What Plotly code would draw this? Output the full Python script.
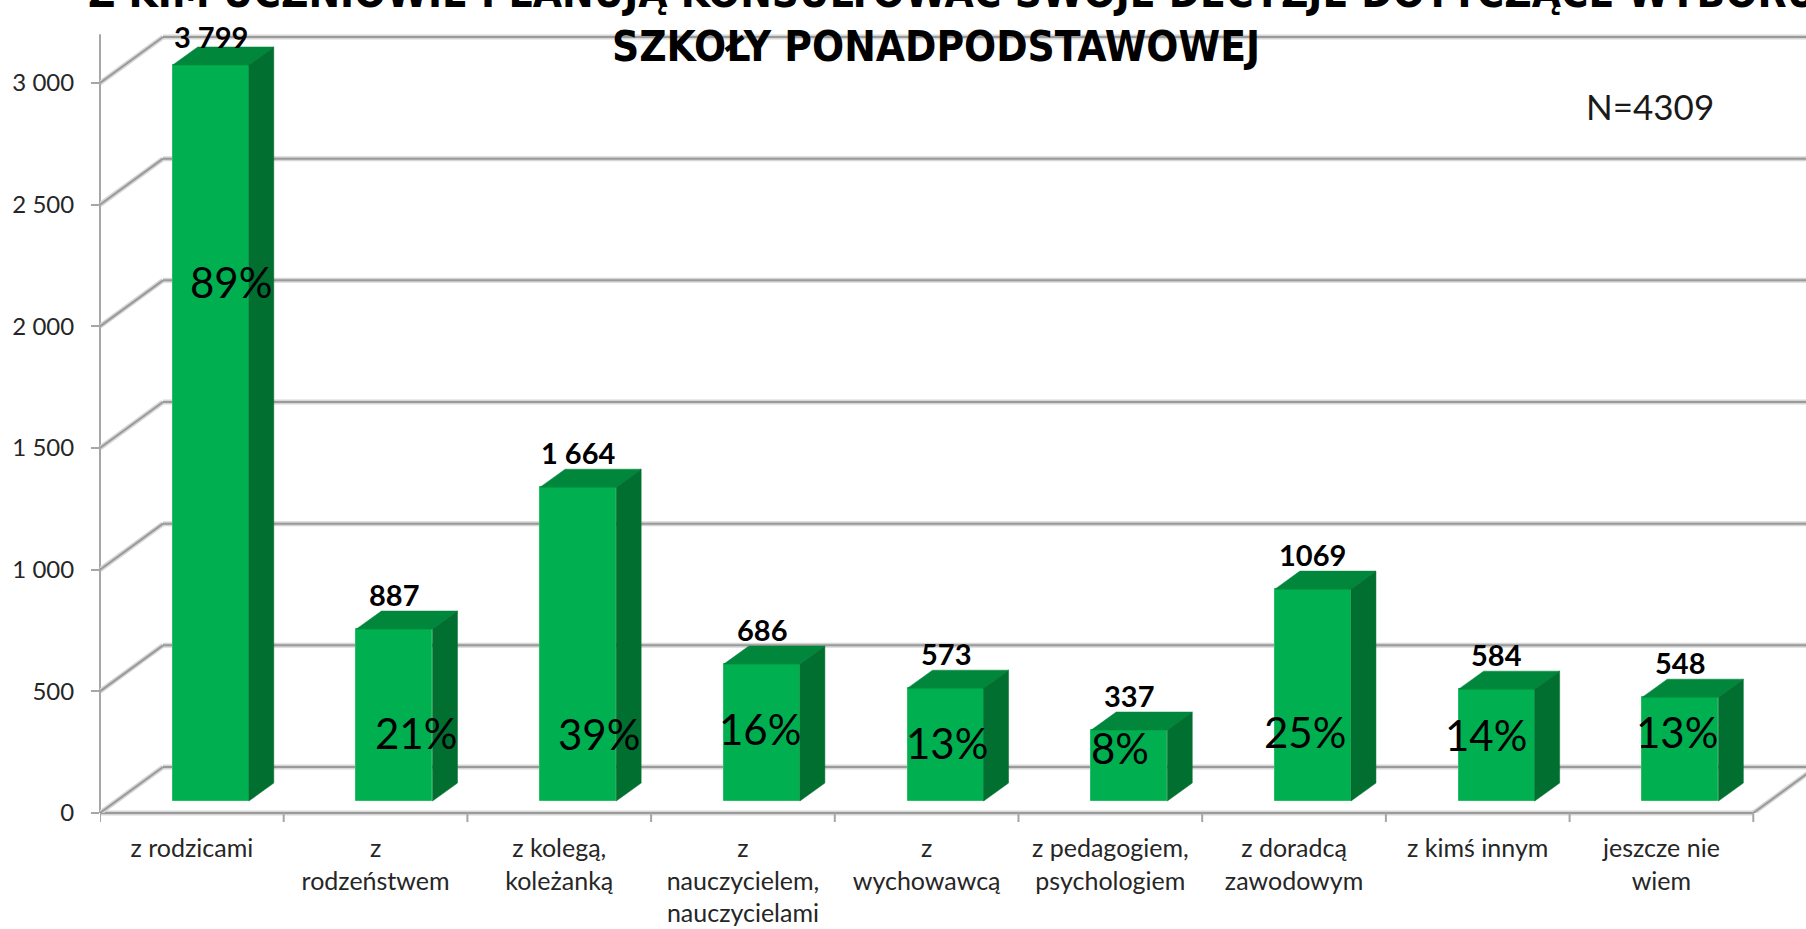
import plotly.graph_objects as go

# ---------------- data ----------------
categories = [
    "z rodzicami",
    "z<br>rodzeństwem",
    "z kolegą,<br>koleżanką",
    "z<br>nauczycielem,<br>nauczycielami",
    "z<br>wychowawcą",
    "z pedagogiem,<br>psychologiem",
    "z doradcą<br>zawodowym",
    "z kimś innym",
    "jeszcze nie<br>wiem",
]
counts = [3799, 887, 1664, 686, 573, 337, 1069, 584, 548]
count_labels = ["3 799", "887", "1 664", "686", "573", "337", "1069", "584", "548"]
percent_labels = ["89%", "21%", "39%", "16%", "13%", "8%", "25%", "14%", "13%"]
# bar heights as drawn against the value axis of the original chart
bar_heights = [3025, 707, 1290, 563, 464, 292, 871, 460, 427]
y_tick_vals = [0, 500, 1000, 1500, 2000, 2500, 3000]
y_tick_text = ["0", "500", "1 000", "1 500", "2 000", "2 500", "3 000"]
title_line1 = "Z KIM UCZNIOWIE PLANUJĄ KONSULTOWAĆ SWOJE DECYZJE DOTYCZĄCE WYBORU"
title_line2 = "SZKOŁY PONADPODSTAWOWEJ"
n_note = "N=4309"

# ---------------- layout / geometry (not data) ----------------
W, H = 1806, 929
ML, MB = 100, 116
X_RANGE = [-0.5, 8.787]
Y_RANGE = [0, 3341]
WALL_DX, WALL_DY = 0.343, 189      # depth of the 3-D floor / back wall
BAR_SHIFT, BAR_BASE, BAR_W = 0.103, 49, 0.414
BAR_DX, BAR_DY = 0.136, 74         # depth of each 3-D column
AXIS_TOP = 3200
# placement of the labels
value_yshift = [28, 35, 35, 35, 35, 35, 35, 35, 35]
pct_xshift = [20, 22, 21, -2, 1, -9, -8, -11, -3]
pct_y = [2182, 329, 325, 345, 288, 267, 333, 321, 333]

FRONT = "#00B050"
TOP = "#00873C"
SIDE = "#006F30"
GRID = "#9a9a9a"
GRID_SHADOW = "#d6d6d6"
TXT = "#262626"
LABEL_FONT = "Lato, Carlito, Calibri, sans-serif"
TITLE_FONT = "DejaVu Sans Condensed, Liberation Sans Narrow, Arial Narrow, sans-serif"

idx = list(range(len(categories)))
fig = go.Figure()

# front faces
fig.add_trace(go.Bar(
    x=[i + BAR_SHIFT for i in idx], y=bar_heights, base=BAR_BASE, width=BAR_W,
    marker=dict(color=FRONT, line=dict(color="#27BD63", width=1)),
    hoverinfo="skip", showlegend=False,
))

# top and side faces
tx, ty, sx, sy = [], [], [], []
for i, h in zip(idx, bar_heights):
    xl = i + BAR_SHIFT - BAR_W / 2
    xr = xl + BAR_W
    yt = BAR_BASE + h
    tx += [xl, xr, xr + BAR_DX, xl + BAR_DX, xl, None]
    ty += [yt, yt, yt + BAR_DY, yt + BAR_DY, yt, None]
    sx += [xr, xr, xr + BAR_DX, xr + BAR_DX, xr, None]
    sy += [BAR_BASE, yt, yt + BAR_DY, BAR_BASE + BAR_DY, BAR_BASE, None]
fig.add_trace(go.Scatter(x=tx, y=ty, mode="lines", fill="toself", fillcolor=TOP,
                         line=dict(color=TOP, width=0.5), hoverinfo="skip", showlegend=False))
fig.add_trace(go.Scatter(x=sx, y=sy, mode="lines", fill="toself", fillcolor=SIDE,
                         line=dict(color=SIDE, width=0.5), hoverinfo="skip", showlegend=False))

# gridlines on the back wall + diagonals to the axis
shapes = []
def line(x0, y0, x1, y1, color, width, xref="x", yref="y"):
    shapes.append(dict(type="line", x0=x0, y0=y0, x1=x1, y1=y1, xref=xref, yref=yref,
                       line=dict(color=color, width=width), layer="below"))

x_end = len(categories) - 0.5
for v in y_tick_vals:
    for col, wd in ((GRID_SHADOW, 5), (GRID, 2)):
        line(X_RANGE[0] + WALL_DX, v + WALL_DY, x_end + WALL_DX, v + WALL_DY, col, wd)
        line(X_RANGE[0], v, X_RANGE[0] + WALL_DX, v + WALL_DY, col, wd)
# floor front edge and right diagonal
for col, wd in ((GRID_SHADOW, 5), (GRID, 2)):
    line(X_RANGE[0], 0, x_end, 0, col, wd, yref="paper")
    line(x_end, 0, x_end + WALL_DX, WALL_DY, col, wd)
# value axis line
line(0, 0, 0, AXIS_TOP, "#a6a6a6", 2, xref="paper")
# category boundary ticks
tick_len = 9 / (H - MB)
for b in [i - 0.5 for i in range(len(categories) + 1)]:
    line(b, 0, b, -tick_len, "#a6a6a6", 2, yref="paper")

annotations = []
# value labels above columns
for i, h, t, ys in zip(idx, bar_heights, count_labels, value_yshift):
    annotations.append(dict(x=i + BAR_SHIFT, y=BAR_BASE + h, text=f"<b>{t}</b>", showarrow=False,
                            yshift=ys, xanchor="center", yanchor="middle",
                            font=dict(family=LABEL_FONT, size=29, color="#000000")))
# percentage labels on columns
for i, t, dx, py in zip(idx, percent_labels, pct_xshift, pct_y):
    annotations.append(dict(x=i + BAR_SHIFT, y=py, text=t, showarrow=False, xshift=dx,
                            xanchor="center", yanchor="middle",
                            font=dict(family=LABEL_FONT, size=42, color="#000000")))

plot_w = W - ML
plot_h = H - MB
def px2paper(px, py):
    return (px - ML) / plot_w, (plot_h - py) / plot_h

x1p, y1p = px2paper(86, -8)
annotations.append(dict(x=x1p, y=y1p, xref="paper", yref="paper", text=f"<b>{title_line1}</b>",
                        showarrow=False, xanchor="left", yanchor="middle",
                        font=dict(family=TITLE_FONT, size=42, color="#000000")))
x2p, y2p = px2paper(610, 47)
annotations.append(dict(x=x2p, y=y2p, xref="paper", yref="paper", text=f"<b>{title_line2}</b>",
                        showarrow=False, xanchor="left", yanchor="middle",
                        font=dict(family=TITLE_FONT, size=42, color="#000000")))
xnp, ynp = px2paper(1650, 106)
annotations.append(dict(x=xnp, y=ynp, xref="paper", yref="paper", text=n_note,
                        showarrow=False, xanchor="center", yanchor="middle",
                        font=dict(family=LABEL_FONT, size=35, color="#1a1a1a")))

fig.update_layout(
    width=W, height=H,
    margin=dict(l=ML, r=0, t=0, b=MB, pad=0, autoexpand=False),
    paper_bgcolor="white", plot_bgcolor="white",
    shapes=shapes, annotations=annotations,
    bargap=0, showlegend=False,
    xaxis=dict(range=X_RANGE, tickmode="array", tickvals=idx, ticktext=categories,
               ticks="", showgrid=False, zeroline=False, showline=False, automargin=False,
               tickfont=dict(family=LABEL_FONT, size=25, color=TXT), ticklabelstandoff=18,
               fixedrange=True),
    yaxis=dict(range=Y_RANGE, tickmode="array", tickvals=y_tick_vals, ticktext=y_tick_text,
               ticks="outside", ticklen=8, tickwidth=2, tickcolor="#a6a6a6",
               showgrid=False, zeroline=False, showline=False, automargin=False,
               tickfont=dict(family=LABEL_FONT, size=24, color=TXT), ticklabelstandoff=12,
               fixedrange=True),
)

fig.write_html("out.html", config={"displayModeBar": False},
               post_script="document.body.style.margin='0';document.body.style.overflow='hidden';")
